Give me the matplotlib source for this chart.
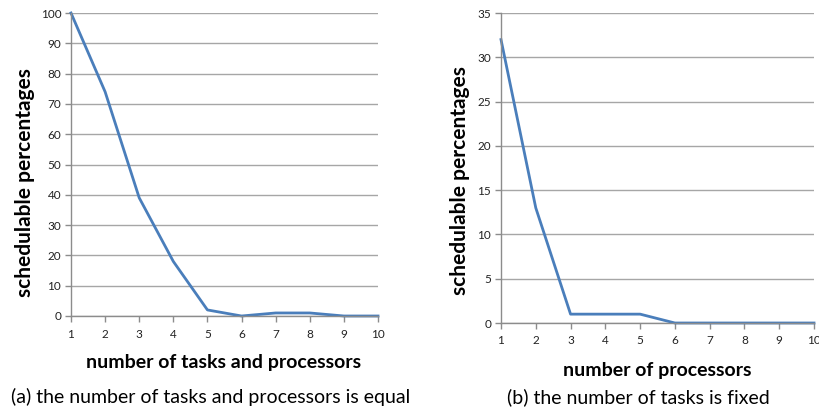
import numpy as np
import matplotlib.pyplot as plt

plt.rcParams['font.family'] = ['Lato', 'DejaVu Sans']

# data
x_vals = [1, 2, 3, 4, 5, 6, 7, 8, 9, 10]
equal_pct = [100, 74, 39, 18, 2, 0, 1, 1, 0, 0]
fixed_pct = [32, 13, 1, 1, 1, 0, 0, 0, 0, 0]

left_yticks = list(range(0, 101, 10))
right_yticks = list(range(0, 36, 5))

W, H = 820, 416
fig = plt.figure(figsize=(W / 100, H / 100), dpi=100)


def px_axes(x0, y0, x1, y1):
    return fig.add_axes([x0 / W, 1 - y1 / H, (x1 - x0) / W, (y1 - y0) / H])


def style(ax, yticks):
    ax.set_xlim(1, 10)
    ax.set_ylim(yticks[0], yticks[-1])
    ax.set_xticks(x_vals)
    ax.set_yticks(yticks)
    ax.grid(axis='y', color='#a6a6a6', linewidth=1.0)
    ax.set_axisbelow(True)
    for s in ['top', 'right']:
        ax.spines[s].set_visible(False)
    for s in ['left', 'bottom']:
        ax.spines[s].set_color('#8c8c8c')
        ax.spines[s].set_linewidth(1.0)
    ax.tick_params(colors='#8c8c8c', labelcolor='#222222', labelsize=8.5,
                   length=4, width=1.0)
    ax.tick_params(axis='x', pad=5)
    ax.tick_params(axis='y', pad=3)


ax1 = px_axes(71, 13, 378, 316)
ax1.plot(x_vals, equal_pct, color='#4a7ebb', linewidth=2.0, clip_on=False)
style(ax1, left_yticks)
ax1.set_ylabel('schedulable percentages', fontsize=15, fontweight='bold')
ax1.set_xlabel('number of tasks and processors', fontsize=14, fontweight='bold')
ax1.yaxis.set_label_coords(-0.15, 0.44)
ax1.xaxis.set_label_coords(0.498, -0.155)
ax1.xaxis.label.set_va('center')
ax1.yaxis.label.set_va('center')

ax2 = px_axes(501, 13, 814, 323)
ax2.plot(x_vals, fixed_pct, color='#4a7ebb', linewidth=2.0, clip_on=False)
style(ax2, right_yticks)
ax2.set_ylabel('schedulable percentages', fontsize=15, fontweight='bold')
ax2.set_xlabel('number of processors', fontsize=14, fontweight='bold')
ax2.yaxis.set_label_coords(-0.131, 0.458)
ax2.xaxis.set_label_coords(0.498, -0.152)
ax2.xaxis.label.set_va('center')
ax2.yaxis.label.set_va('center')

fig.text(211 / W, 1 - 397 / H, '(a) the number of tasks and processors is equal',
         ha='center', va='center', fontsize=14)
fig.text(638 / W, 1 - 397 / H, '(b) the number of tasks is fixed',
         ha='center', va='center', fontsize=14)

fig.savefig('out.png', dpi=100)
